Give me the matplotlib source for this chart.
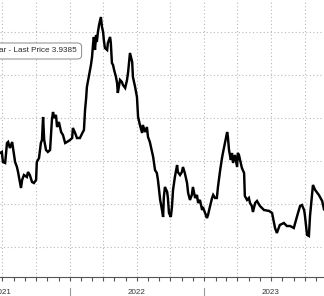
import matplotlib
matplotlib.use("Agg")
import matplotlib.pyplot as plt
import matplotlib.dates as mdates
import matplotlib.transforms as mtrans
import pandas as pd
import numpy as np

# ---- data ----
start_date = "2021-06-25"
day_offsets = [0, 5, 8, 14, 19, 22, 27, 33, 35, 41, 46, 49, 57, 60, 65, 73, 76, 81, 87, 92,
               98, 100, 106, 111, 114, 117, 120, 125, 130, 136, 141, 144, 147, 152, 155, 160, 166, 171, 177, 182,
               190, 196, 198, 204, 209, 217, 225, 228, 231, 234, 236, 242, 247, 250, 253, 255, 258, 261, 263, 266,
               269, 274, 277, 280, 282, 285, 291, 293, 299, 301, 304, 307, 310, 315, 318, 320, 326, 331, 334, 340,
               345, 348, 353, 359, 361, 367, 372, 375, 380, 386, 388, 394, 399, 402, 407, 413, 416, 421, 426, 429,
               435, 440, 443, 445, 448, 454, 456, 459, 464, 467, 470, 475, 481, 483, 489, 494, 497, 502, 508, 511,
               516, 521, 524, 530, 535, 538, 543, 549, 551, 557, 562, 565, 570, 576, 579, 584, 589, 592, 598, 603,
               606, 611, 617, 619, 622, 627, 630, 633, 638, 644, 646, 649, 657, 663, 665, 671, 676, 679, 684, 687,
               693, 698, 706, 717, 731, 739, 747, 752, 760, 771, 779, 788, 798, 807, 815, 820, 826, 828, 834, 839,
               842, 850, 856, 866, 875, 880]
prices = [4.593, 4.605, 4.488, 4.477, 4.709, 4.721, 4.651, 4.721, 4.663, 4.488, 4.430, 4.372, 4.186, 4.279, 4.337, 4.314, 4.372, 4.337, 4.256, 4.244,
          4.279, 4.488, 4.535, 4.709, 4.744, 5.012, 4.744, 4.628, 4.605, 4.628, 4.977, 5.070, 5.000, 5.035, 4.895, 4.953, 4.837, 4.802, 4.709, 4.721,
          4.744, 4.767, 4.884, 4.826, 4.767, 4.767, 4.837, 4.860, 5.093, 5.233, 5.360, 5.500, 5.616, 5.709, 5.872, 5.942, 5.791, 5.965, 5.884, 6.000,
          6.081, 6.174, 6.058, 6.000, 5.907, 5.814, 5.791, 5.872, 5.942, 5.872, 5.640, 5.616, 5.558, 5.477, 5.407, 5.291, 5.442, 5.419, 5.384, 5.349,
          5.442, 5.535, 5.756, 5.651, 5.477, 5.360, 5.244, 5.012, 4.919, 4.826, 4.919, 4.837, 4.895, 4.779, 4.721, 4.605, 4.547, 4.395, 4.360, 4.279,
          4.047, 3.930, 3.849, 4.081, 4.198, 4.140, 4.070, 3.895, 3.849, 3.965, 4.163, 4.314, 4.453, 4.372, 4.337, 4.372, 4.430, 4.360, 4.244, 4.128,
          4.047, 4.105, 4.198, 4.070, 4.105, 4.012, 4.047, 3.930, 3.965, 3.895, 3.837, 3.872, 3.965, 4.070, 4.105, 4.070, 4.070, 4.198, 4.395, 4.535,
          4.605, 4.709, 4.837, 4.779, 4.628, 4.512, 4.593, 4.477, 4.570, 4.430, 4.593, 4.570, 4.419, 4.360, 4.093, 4.047, 4.070, 4.012, 3.977, 3.907,
          4.012, 4.035, 3.977, 3.930, 3.919, 3.895, 3.721, 3.663, 3.756, 3.779, 3.744, 3.744, 3.721, 3.860, 3.977, 3.988, 3.930, 3.872, 3.640, 3.628,
          3.860, 4.221, 4.163, 4.105, 4.035, 3.9385]
last_price = 3.9385
legend_text = "ar - Last Price 3.9385"
year_labels = ["2021", "2022", "2023"]
grid_levels = [3.5, 4.0, 4.5, 5.0, 5.5, 6.0]

dates = pd.Timestamp(start_date) + pd.to_timedelta(day_offsets, unit="D")

fig = plt.figure(figsize=(3.24, 2.96), dpi=100)
ax = fig.add_axes([0, 19 / 296, 1, 277 / 296])

ax.plot(dates, prices, color="black", lw=1.75, solid_joinstyle="miter", zorder=3)

ax.set_xlim(dates[0], dates[-1])
ax.set_ylim(3.151, 6.372)

# grid
ax.set_yticks(grid_levels)
ax.set_yticklabels([])
ax.xaxis.set_major_locator(mdates.MonthLocator(bymonth=[1, 4, 7, 10]))
ax.xaxis.set_minor_locator(mdates.MonthLocator())
ax.xaxis.set_major_formatter(plt.NullFormatter())
ax.grid(True, which="major", color="#b8b8b8", lw=0.8, ls=(0, (1, 2.2)))
ax.tick_params(axis="y", length=0)
ax.tick_params(axis="x", which="both", length=2.8, width=0.8, color="#555555", direction="out")

for s in ["top", "left", "right"]:
    ax.spines[s].set_visible(False)
ax.spines["bottom"].set_color("#555555")
ax.spines["bottom"].set_linewidth(0.8)

# year labels centred in each year, separators at year boundaries
trans = mtrans.blended_transform_factory(ax.transData, ax.transAxes)
for lab in year_labels:
    mid = mdates.date2num(pd.Timestamp(f"{lab}-07-01"))
    ax.text(mid, -16 / 277, lab, transform=trans, ha="center", va="center",
            fontsize=5.8, family=["Liberation Sans", "DejaVu Sans"], color="#333333", clip_on=False)
    sep = mdates.date2num(pd.Timestamp(f"{lab}-01-01"))
    ax.plot([sep, sep], [-11 / 277, -20 / 277], transform=trans, color="#999999", lw=0.8, clip_on=False)

# legend box
ax.text(0.238, 1 - 51 / 277, legend_text, transform=ax.transAxes, ha="right", va="center",
        fontsize=5.9, family=["Liberation Sans", "DejaVu Sans"], color="#2a2a2a", zorder=5,
        bbox=dict(boxstyle="round,pad=0.55,rounding_size=0.5", fc="white", ec="#8a8a8a", lw=0.7))

# last price tag, mostly beyond the right edge
ax.annotate(f"{last_price}", xy=(dates[-1], last_price), xytext=(1.5, -4), textcoords="offset points",
            ha="left", va="center", fontsize=5.6, color="white", annotation_clip=False,
            bbox=dict(boxstyle="square,pad=0.3", fc="#f7d2d2", ec="none"))

fig.savefig("out.png", dpi=100)
